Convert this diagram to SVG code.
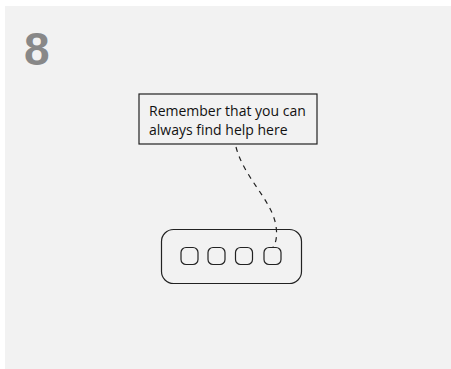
<svg xmlns="http://www.w3.org/2000/svg" width="451" height="369" viewBox="0 0 451 369">
  <style>
    .line { fill: none; stroke: #222; stroke-width: 1.2; }
    .lbl { font-family: "Open Sans", "Liberation Sans", sans-serif; font-size: 14px; fill: #111; }
    .num { font-family: "Liberation Sans", "Open Sans", sans-serif; font-size: 46px; font-weight: bold; fill: #888; }
  </style>
  <rect x="0" y="0" width="451" height="369" fill="#ffffff"/>
  <rect x="5" y="6" width="446" height="363" fill="#f2f2f2"/>
  <text class="num" x="24" y="65">8</text>
  <g id="connectors">
    <path class="line" d="M236,147 C244,178 272,200 276,226 Q278,240 273,247" stroke-dasharray="5,5"/>
  </g>
  <g id="callout">
    <rect class="line" x="139" y="94" width="178" height="50" fill="#f2f2f2"/>
    <text class="lbl" x="149" y="116">Remember that you can</text>
    <text class="lbl" x="149" y="135">always find help here</text>
  </g>
  <g id="device">
    <rect class="line" x="161.5" y="229.5" width="140" height="54" rx="12"/>
    <rect class="line" x="181" y="247.5" width="17" height="17" rx="5"/>
    <rect class="line" x="208" y="247.5" width="17" height="17" rx="5"/>
    <rect class="line" x="235.5" y="247.5" width="17" height="17" rx="5"/>
    <rect class="line" x="264" y="247.5" width="17" height="17" rx="5"/>
  </g>
</svg>
